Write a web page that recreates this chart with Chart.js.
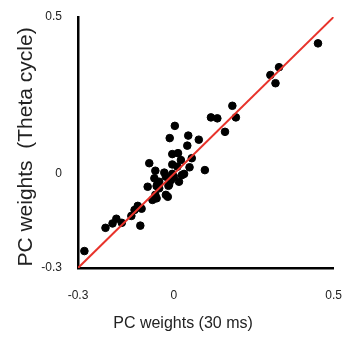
<!DOCTYPE html>
<html>
<head>
<meta charset="utf-8">
<script src="https://cdn.jsdelivr.net/npm/chart.js@4.4.1/dist/chart.umd.min.js"></script>
<style>
  html, body { margin: 0; padding: 0; background: #fff; }
  #wrap { width: 354px; height: 341px; }
</style>
</head>
<body>
<div id="wrap"><canvas id="scatterChart" width="354" height="341"></canvas></div>
<script>
// PC weights estimated from 30 ms windows (x) vs theta cycles (y)
const pcWeights30ms = [
  0.451, 0.329, 0.302, 0.318, 0.183, 0.194, 0.116, 0.136, 0.160, 0.003,
  -0.013, 0.045, 0.078, 0.042, -0.005, 0.013, 0.056, 0.097, 0.022, 0.011,
  -0.005, 0.025, 0.032, 0.049, -0.009, -0.015, -0.019, -0.077, -0.058, -0.061,
  -0.046, -0.054, -0.082, -0.067, -0.054, -0.030, -0.025, -0.017, -0.101, -0.113,
  -0.123, -0.133, -0.105, -0.163, -0.180, -0.192, -0.214, -0.280, -0.051, -0.046,
  -0.058, -0.025, 0.016, 0.000, -0.005
];
const pcWeightsTheta = [
  0.416, 0.340, 0.315, 0.289, 0.217, 0.180, 0.180, 0.177, 0.134, 0.153,
  0.114, 0.122, 0.109, 0.090, 0.063, 0.066, 0.050, 0.012, 0.044, 0.023,
  0.030, -0.004, 0.000, 0.021, -0.020, -0.035, -0.073, 0.034, 0.010, -0.014,
  -0.025, -0.039, -0.041, -0.083, -0.078, 0.004, -0.009, -0.038, -0.111, -0.102,
  -0.115, -0.134, -0.165, -0.156, -0.143, -0.158, -0.172, -0.246, -0.030, -0.046,
  -0.067, -0.067, -0.025, -0.009, 0.000
];
const identityLine = [-0.3, 0.5];
const tickValues = [-0.3, 0, 0.5];
const xTitle = "PC weights (30 ms)";
const yTitle = "PC weights  (Theta cycle)";

const points = pcWeights30ms.map((x, i) => ({ x: x, y: pcWeightsTheta[i] }));
const lineData = identityLine.map((v) => ({ x: v, y: v }));

function fixedTicks(scale) {
  scale.ticks = tickValues.map((v) => ({ value: v }));
}

// axis titles sit a bit off-centre in the original figure, so draw them by hand
const axisTitles = {
  id: "axisTitles",
  afterDraw(chart) {
    const c = chart.ctx;
    c.save();
    c.fillStyle = "#222";
    c.textAlign = "center";
    c.textBaseline = "middle";
    c.font = "16px 'Liberation Sans'";
    c.fillText(xTitle, 183, 324);
    c.translate(26, 147);
    c.rotate(-Math.PI / 2);
    c.font = "21px 'Liberation Sans'";
    c.fillText(yTitle, 0, 0);
    c.restore();
  },
};

const ctx = document.getElementById("scatterChart");
new Chart(ctx, {
  type: "scatter",
  data: {
    datasets: [
      {
        type: "line",
        data: lineData,
        borderColor: "#e8332b",
        borderWidth: 2,
        pointRadius: 0,
        fill: false,
        order: 0,
      },
      {
        data: points,
        backgroundColor: "#000",
        borderColor: "#000",
        pointRadius: 3.8,
        pointHoverRadius: 3.8,
        order: 1,
      },
    ],
  },
  options: {
    responsive: false,
    animation: false,
    events: [],
    layout: {
      padding: { top: 17, right: 18, left: 0, bottom: 0 },
    },
    plugins: {
      legend: { display: false },
      tooltip: { enabled: false },
    },
    scales: {
      x: {
        type: "linear",
        min: -0.3,
        max: 0.5,
        afterBuildTicks: fixedTicks,
        afterFit: function (scale) {
          scale.height = 73;
        },
        grid: { display: false },
        border: { display: true, color: "#000", width: 2.5 },
        ticks: {
          color: "#222",
          padding: 12,
          maxRotation: 0,
          font: { family: "Liberation Sans", size: 12 },
          callback: (v) => (v === 0 ? "0" : String(v)),
        },
      },
      y: {
        type: "linear",
        min: -0.3,
        max: 0.5,
        afterBuildTicks: fixedTicks,
        afterFit: function (scale) {
          scale.width = 78;
        },
        grid: { display: false },
        border: { display: true, color: "#000", width: 2.5 },
        ticks: {
          color: "#222",
          padding: 8,
          font: { family: "Liberation Sans", size: 12 },
          callback: (v) => (v === 0 ? "0" : String(v)),
        },
      },
    },
  },
  plugins: [axisTitles],
});
</script>
</body>
</html>
